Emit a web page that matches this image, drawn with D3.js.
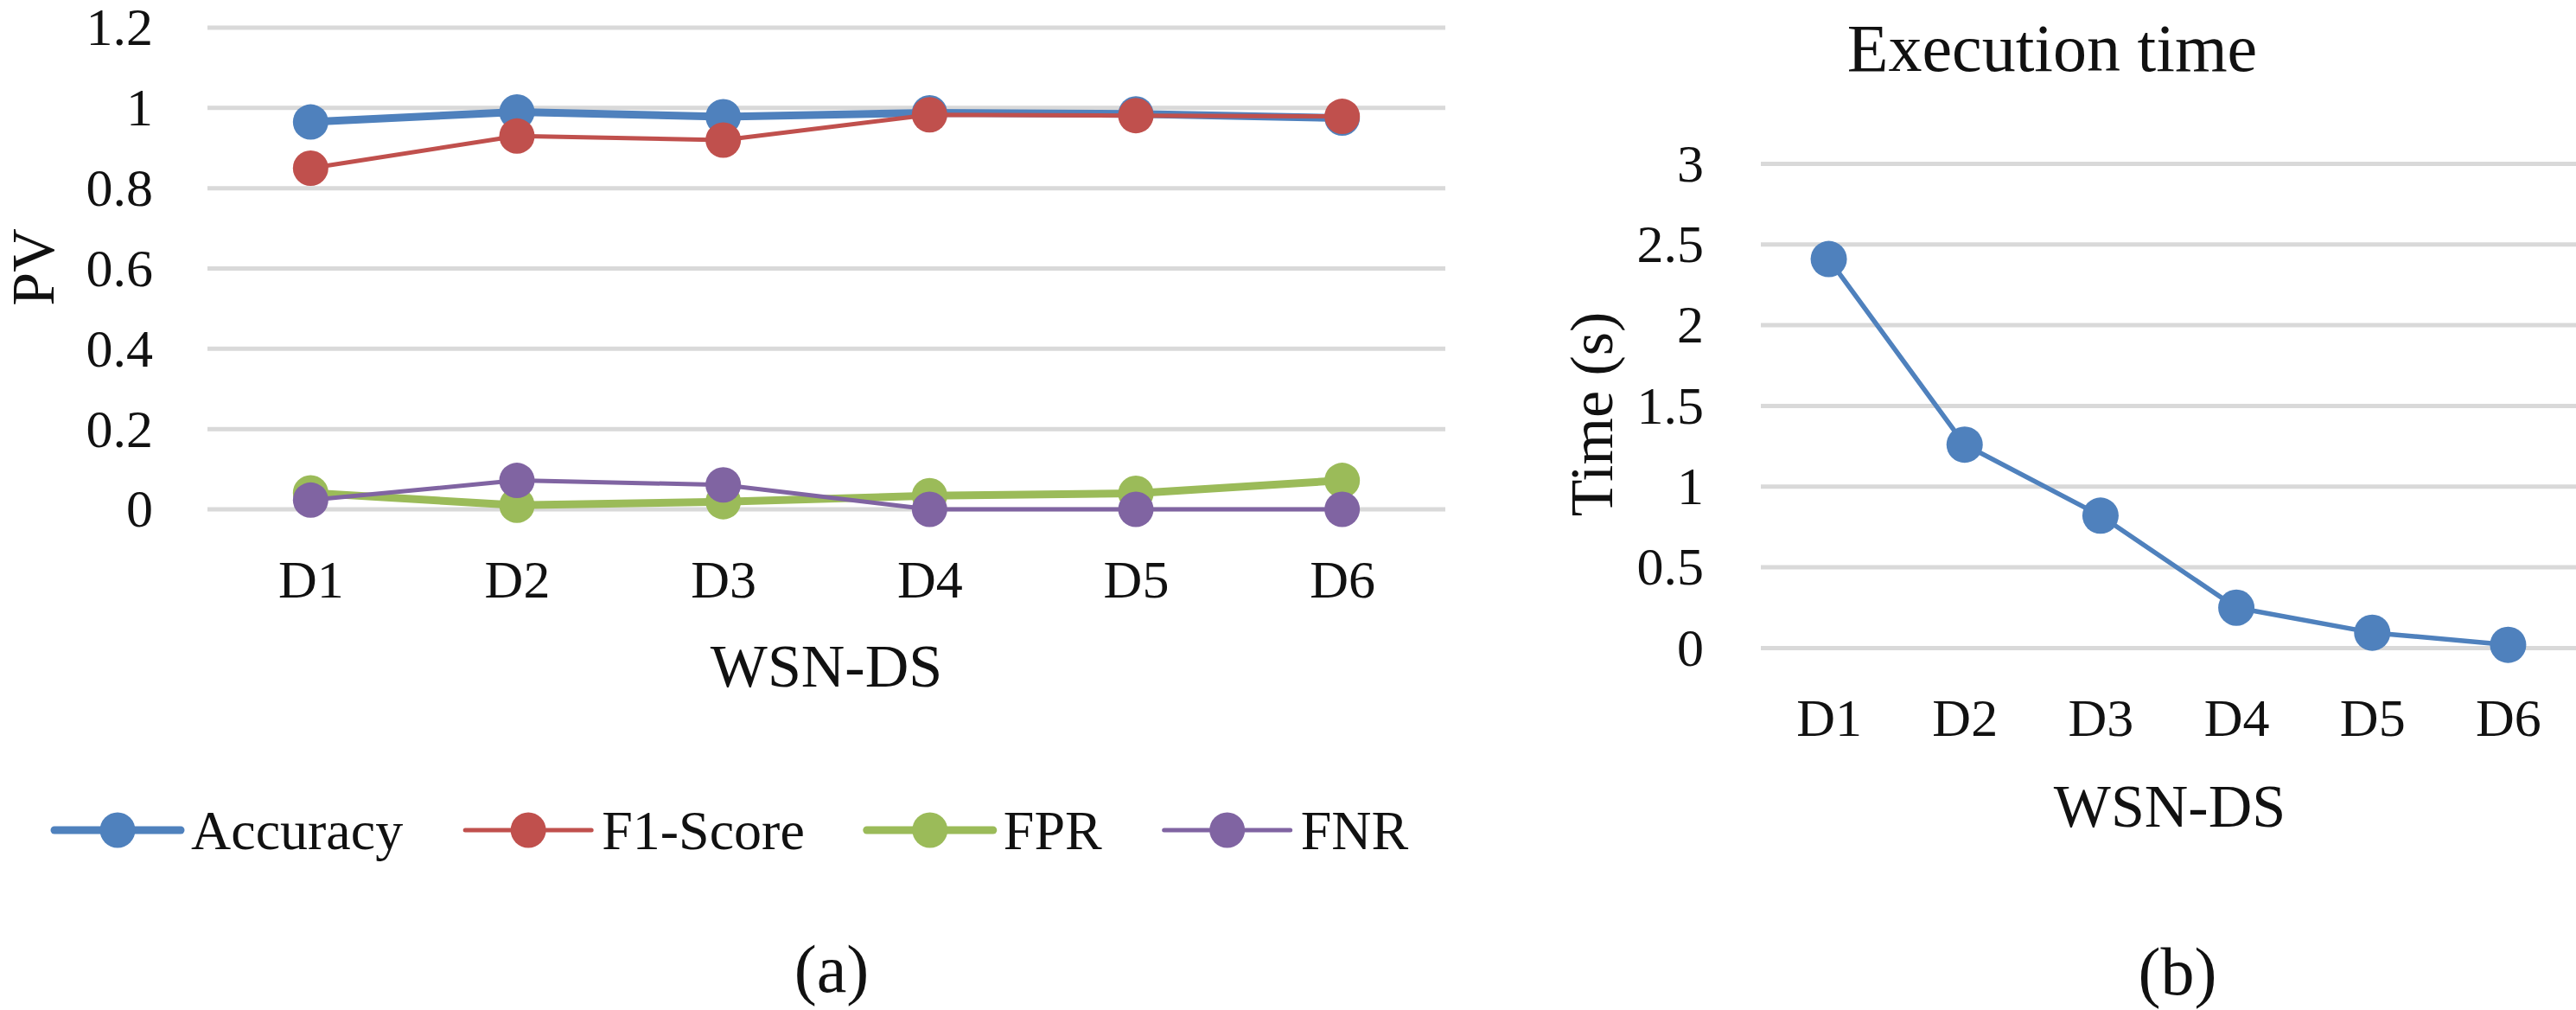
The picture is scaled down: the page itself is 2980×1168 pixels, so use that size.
<!DOCTYPE html>
<html>
<head>
<meta charset="utf-8">
<script src="https://cdn.jsdelivr.net/npm/d3@7"></script>
<style>
body { margin: 0; background: #fff; }
text { font-family: "Liberation Serif", "Times New Roman", serif; fill: #111; }
</style>
</head>
<body>
<script>
var categories = ["D1", "D2", "D3", "D4", "D5", "D6"];
var accuracy = [0.965, 0.99, 0.978, 0.988, 0.985, 0.975];
var f1score  = [0.85, 0.93, 0.92, 0.983, 0.981, 0.979];
var fpr      = [0.041, 0.01, 0.019, 0.034, 0.04, 0.072];
var fnr      = [0.023, 0.072, 0.061, 0, 0, 0];
var execTime = [2.41, 1.26, 0.82, 0.25, 0.095, 0.02];
var ticksA = [0, 0.2, 0.4, 0.6, 0.8, 1, 1.2];
var ticksB = [0, 0.5, 1, 1.5, 2, 2.5, 3];

var series = [
	{name: "Accuracy", values: accuracy, color: "#4f81bd", width: 9},
	{name: "F1-Score", values: f1score, color: "#c0504d", width: 5},
	{name: "FPR", values: fpr, color: "#9bbb59", width: 9},
	{name: "FNR", values: fnr, color: "#8064a2", width: 5}
];

var W = 2980, H = 1168;
var gridColor = "#d9d9d9";

var svg = d3.select("body").append("svg")
			.attr("width", W)
			.attr("height", H);

// ---- panel (a)
var xA = d3.scalePoint().domain(categories).range([240, 1672]).padding(0.5);
var yA = d3.scaleLinear().domain([0, 1.2]).range([589, 32]);

var gA = svg.append("g");

gA.selectAll(".grid").data(ticksA).enter().append("line")
	.attr("x1", 240).attr("x2", 1672)
	.attr("y1", d => yA(d)).attr("y2", d => yA(d))
	.attr("stroke", gridColor).attr("stroke-width", 5);

var yAxisA = gA.append("g").attr("transform", "translate(240,0)")
	.call(d3.axisLeft(yA).tickValues(ticksA).tickSize(0).tickPadding(63).tickFormat(d3.format("~g")));
yAxisA.select(".domain").remove();
yAxisA.selectAll("text").attr("font-size", 62).attr("font-family", "Liberation Serif").attr("fill", "#111");

var xAxisA = gA.append("g").attr("transform", "translate(0,589)")
	.call(d3.axisBottom(xA).tickSize(0).tickPadding(58));
xAxisA.select(".domain").remove();
xAxisA.selectAll("text").attr("font-size", 62).attr("font-family", "Liberation Serif").attr("fill", "#111");

var lineA = d3.line().x((d, i) => xA(categories[i])).y(d => yA(d));

series.forEach(function(s) {
	gA.append("path")
		.attr("d", lineA(s.values))
		.attr("fill", "none")
		.attr("stroke", s.color)
		.attr("stroke-width", s.width)
		.attr("stroke-linejoin", "round");
	gA.selectAll(null).data(s.values).enter().append("circle")
		.attr("cx", (d, i) => xA(categories[i]))
		.attr("cy", d => yA(d))
		.attr("r", 20.5)
		.attr("fill", s.color);
});

gA.append("text")
	.attr("transform", "translate(37,309) rotate(-90)")
	.attr("text-anchor", "middle").attr("dy", "0.35em")
	.attr("font-size", 70).text("PV");

gA.append("text")
	.attr("x", 956).attr("y", 794)
	.attr("text-anchor", "middle")
	.attr("font-size", 70).text("WSN-DS");

// legend
var legend = gA.append("g").attr("transform", "translate(0,960)");
var lx = 63;
series.forEach(function(s) {
	var item = legend.append("g").attr("transform", "translate(" + lx + ",0)");
	item.append("line")
		.attr("x1", 0).attr("x2", 146).attr("y1", 0).attr("y2", 0)
		.attr("stroke", s.color).attr("stroke-width", s.width)
		.attr("stroke-linecap", "round");
	item.append("circle").attr("cx", 73).attr("cy", 0).attr("r", 20.5).attr("fill", s.color);
	var t = item.append("text")
		.attr("x", 158).attr("dy", "0.35em")
		.attr("font-size", 64).text(s.name);
	lx += 158 + t.node().getComputedTextLength() + 72;
});

gA.append("text")
	.attr("x", 962).attr("y", 1147)
	.attr("text-anchor", "middle")
	.attr("font-size", 78).text("(a)");

// ---- panel (b)
var xB = d3.scalePoint().domain(categories).range([2037, 2980]).padding(0.5);
var yB = d3.scaleLinear().domain([0, 3]).range([749.4, 189.4]);

var gB = svg.append("g");

gB.selectAll(".grid").data(ticksB).enter().append("line")
	.attr("x1", 2037).attr("x2", 2980)
	.attr("y1", d => yB(d)).attr("y2", d => yB(d))
	.attr("stroke", gridColor).attr("stroke-width", 5);

var yAxisB = gB.append("g").attr("transform", "translate(2037,0)")
	.call(d3.axisLeft(yB).tickValues(ticksB).tickSize(0).tickPadding(66).tickFormat(d3.format("~g")));
yAxisB.select(".domain").remove();
yAxisB.selectAll("text").attr("font-size", 62).attr("font-family", "Liberation Serif").attr("fill", "#111");

var xAxisB = gB.append("g").attr("transform", "translate(0,749.4)")
	.call(d3.axisBottom(xB).tickSize(0).tickPadding(58));
xAxisB.select(".domain").remove();
xAxisB.selectAll("text").attr("font-size", 62).attr("font-family", "Liberation Serif").attr("fill", "#111");

var lineB = d3.line().x((d, i) => xB(categories[i])).y(d => yB(d));

gB.append("path")
	.attr("d", lineB(execTime))
	.attr("fill", "none")
	.attr("stroke", "#4f81bd")
	.attr("stroke-width", 5.5)
	.attr("stroke-linejoin", "round");

gB.selectAll("circle").data(execTime).enter().append("circle")
	.attr("cx", (d, i) => xB(categories[i]))
	.attr("cy", d => yB(d))
	.attr("r", 21)
	.attr("fill", "#4f81bd");

gB.append("text")
	.attr("x", 2374).attr("y", 82)
	.attr("text-anchor", "middle")
	.attr("font-size", 78).text("Execution time");

gB.append("text")
	.attr("transform", "translate(1840,479) rotate(-90)")
	.attr("text-anchor", "middle").attr("dy", "0.35em")
	.attr("font-size", 70).text("Time (s)");

gB.append("text")
	.attr("x", 2510).attr("y", 956)
	.attr("text-anchor", "middle")
	.attr("font-size", 70).text("WSN-DS");

gB.append("text")
	.attr("x", 2519).attr("y", 1150)
	.attr("text-anchor", "middle")
	.attr("font-size", 78).text("(b)");
</script>
</body>
</html>
